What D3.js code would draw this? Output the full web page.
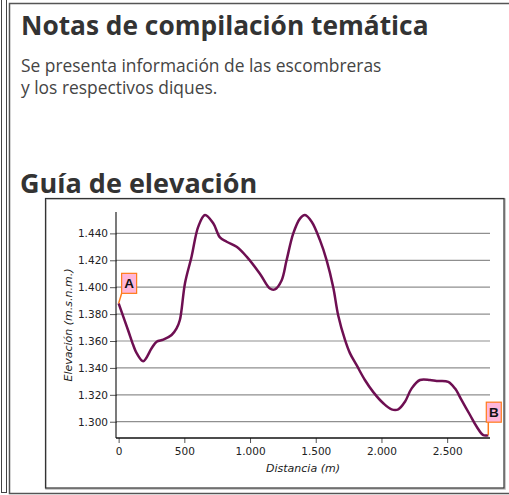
<!DOCTYPE html>
<html><head><meta charset="utf-8">
<script src="https://cdn.jsdelivr.net/npm/d3@7"></script>
<style>html,body{margin:0;padding:0;background:#fff;}svg{display:block;}</style>
</head><body>
<script>
// ---- data ----
const distance = [0,72,111,137,187,251,289,340,403,441,466,505,555,606,657,720,771,822,898,974,1075,1151,1189,1240,1278,1329,1380,1418,1469,1532,1583,1633,1671,1722,1760,1811,1874,1938,2014,2077,2128,2179,2230,2293,2369,2420,2508,2559,2610,2674,2725,2775,2813];
const elevation = [1388,1368,1357,1351,1345,1354.6,1359.5,1361,1364.5,1369.4,1375.6,1403,1422.7,1445,1453.7,1447.5,1437,1433.8,1430,1422.7,1410,1399,1398.4,1405,1420,1440,1451,1453.7,1448.7,1435,1420,1400,1379,1361,1351,1342,1331,1322,1313.7,1309.2,1309.2,1314.9,1324.8,1331,1331,1330.3,1329.7,1324.8,1316,1305,1296.3,1290,1290];
const yTicks = [1300,1320,1340,1360,1380,1400,1420,1440];
const xTicks = [0,500,1000,1500,2000,2500];
const markerLabels = ["A","B"];
const titleText = "Notas de compilación temática";
const subtitleLines = ["Se presenta información de las escombreras","y los respectivos diques."];
const chartTitle = "Guía de elevación";
const yAxisTitle = "Elevación (m.s.n.m.)";
const xAxisTitle = "Distancia (m)";

const W = 509, H = 495;
const svg = d3.select("body").append("svg").attr("width", W).attr("height", H);
const fmt = d => d3.format(",")(d).replace(/,/g, ".");

// frames
svg.append("rect").attr("x",1.5).attr("y",-5).attr("width",5).attr("height",497.5)
  .attr("fill","none").attr("stroke","#444").attr("stroke-width",1);
svg.append("rect").attr("x",9.5).attr("y",3.5).attr("width",510).attr("height",490)
  .attr("fill","none").attr("stroke","#555").attr("stroke-width",1.5);
svg.append("rect").attr("x",46).attr("y",199).attr("width",459).attr("height",290)
  .attr("fill","none").attr("stroke","#bbb").attr("stroke-width",1.5);
svg.append("rect").attr("x",45.5).attr("y",198.5).attr("width",458.5).attr("height",289.5)
  .attr("fill","none").attr("stroke","#333").attr("stroke-width",1.2);

// titles
svg.append("text").attr("x",21).attr("y",34.5).text(titleText)
  .attr("font-family","'Open Sans'").attr("font-weight",700).attr("font-size",26.3).attr("fill","#333");
svg.selectAll(".sub").data(subtitleLines).join("text").attr("class","sub")
  .attr("x",21).attr("y",(d,i)=>71.5+i*22.6).text(d=>d)
  .attr("font-family","'Open Sans'").attr("font-size",17.4).attr("fill","#444");
svg.append("text").attr("x",20).attr("y",193.3).text(chartTitle)
  .attr("font-family","'Open Sans'").attr("font-weight",700).attr("font-size",27).attr("fill","#333");

// scales
const x = d3.scaleLinear().domain([-20, 2826]).range([116, 490]);
const y = d3.scaleLinear().domain([1287.9, 1455.9]).range([438, 212]);

// gridlines
svg.append("g").selectAll("line").data(yTicks).join("line")
  .attr("x1",116).attr("x2",490).attr("y1",d=>y(d)).attr("y2",d=>y(d))
  .attr("stroke","#8f8f8f").attr("stroke-width",1.2);

// axes
const font = "'DejaVu Sans', Verdana, sans-serif";
const gy = svg.append("g").attr("transform","translate(116,0)")
  .call(d3.axisLeft(y).tickValues(yTicks).tickFormat(fmt).tickSize(6).tickPadding(2));
gy.select(".domain").remove();
gy.append("line").attr("x1",0).attr("x2",0).attr("y1",212).attr("y2",438).attr("stroke","#222").attr("stroke-width",1.2);
gy.selectAll(".tick line").attr("stroke","#555").attr("x2",-6).attr("x1",1);
gy.selectAll("text").attr("font-family",font).attr("font-size",10.5).attr("fill","#222");

const gx = svg.append("g").attr("transform","translate(0,438)")
  .call(d3.axisBottom(x).tickValues(xTicks).tickFormat(fmt).tickSize(5).tickPadding(5));
gx.select(".domain").remove();
gx.append("line").attr("x1",116).attr("x2",490).attr("y1",0).attr("y2",0).attr("stroke","#111").attr("stroke-width",1.5);
gx.selectAll(".tick line").attr("stroke","#555");
gx.selectAll("text").attr("font-family",font).attr("font-size",10.5).attr("fill","#222");

// axis titles
svg.append("text").attr("transform","translate(72,325) rotate(-90)").attr("text-anchor","middle")
  .attr("font-family",font).attr("font-style","italic").attr("font-size",11).attr("fill","#222").text(yAxisTitle);
svg.append("text").attr("x",303).attr("y",472).attr("text-anchor","middle")
  .attr("font-family",font).attr("font-style","italic").attr("font-size",11).attr("fill","#222").text(xAxisTitle);

// profile line
const pts = distance.map((d,i)=>[d, elevation[i]]);
svg.append("path").datum(pts)
  .attr("d", d3.line().x(d=>x(d[0])).y(d=>y(d[1])).curve(d3.curveCatmullRom.alpha(0.5)))
  .attr("fill","none").attr("stroke","#6e0f52").attr("stroke-width",2.5).attr("stroke-linejoin","round");

// markers A and B
const ends = [pts[0], pts[pts.length-1]];
const boxOff = [[3, -30], [-2, -33]];
markerLabels.forEach((lab,i)=>{
  const px = x(ends[i][0]), py = y(ends[i][1]);
  const bx = px + boxOff[i][0], by = py + boxOff[i][1];
  const g = svg.append("g");
  g.append("line").attr("x1",px).attr("y1",py).attr("x2",bx+ (i===0?0:2)).attr("y2",by+20)
    .attr("stroke","#ff7a1a").attr("stroke-width",1.5);
  g.append("rect").attr("x",bx).attr("y",by).attr("width",15).attr("height",20)
    .attr("fill","#ffb6da").attr("stroke","#ff7a1a").attr("stroke-width",1.2);
  g.append("text").attr("x",bx+7.5).attr("y",by+15).attr("text-anchor","middle")
    .attr("font-family","'Liberation Sans', Arial").attr("font-weight",700).attr("font-size",13.5).attr("fill","#111").text(lab);
});
</script>
</body></html>
